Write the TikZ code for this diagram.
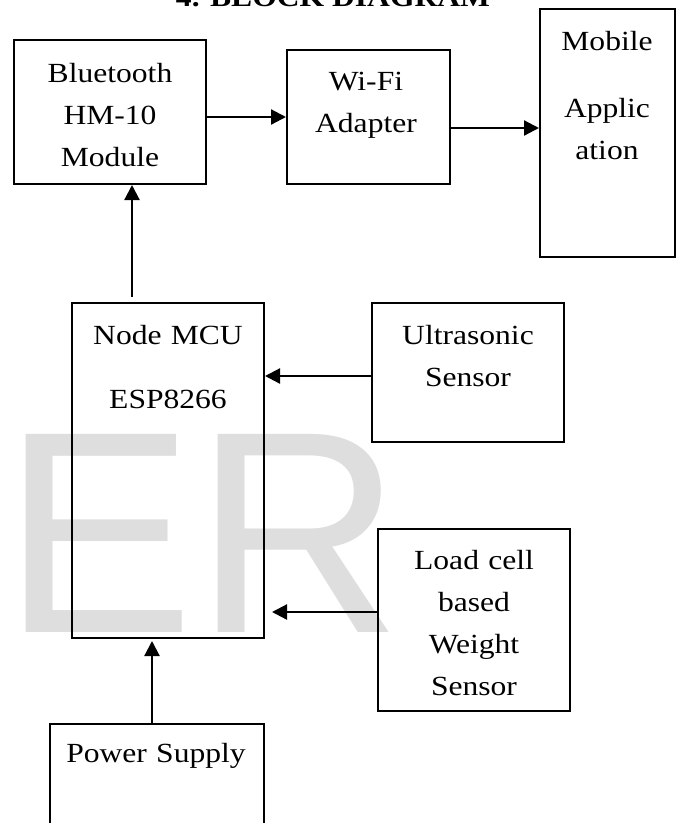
\documentclass[tikz,border=0pt]{standalone}
\usepackage{fontspec}
\setmainfont{Liberation Serif}[FakeStretch=1.14]
\newfontfamily\wmfont{Liberation Sans}
\usetikzlibrary{arrows.meta}

\definecolor{WmGray}{HTML}{DEDEDE}

\begin{document}
\begin{tikzpicture}[x=1pt,y=1pt,
		block/.style={draw, line width=2pt, inner sep=0pt},
		txt/.style={anchor=base, inner sep=0pt, text width=200pt, align=center, font=\fontsize{27.7}{42}\selectfont},
		arr/.style={line width=2.2pt, -{Triangle[length=15pt,width=15pt]}}]
	\useasboundingbox (0,0) rectangle (676,-823);
	\clip (0,0) rectangle (676,-823);
	% watermark
	\node[anchor=base west, inner sep=0pt, text=WmGray, font=\wmfont\fontsize{288}{288}\selectfont] (wm) at (2,-632) {ER};
	% title
	\node[anchor=base, inner sep=0pt, font=\fontsize{27.7}{42}\selectfont\bfseries] (title) at (333,-6) {4. BLOCK DIAGRAM};
	% blocks
	\node[block, minimum width=192pt, minimum height=144pt] (bt) at (110,-112) {};
	\node[block, minimum width=163pt, minimum height=134pt] (wifi) at (368.5,-117) {};
	\node[block, minimum width=135pt, minimum height=248pt] (mobile) at (607.5,-133) {};
	\node[block, minimum width=192pt, minimum height=335pt] (mcu) at (168,-470.5) {};
	\node[block, minimum width=192pt, minimum height=139pt] (ultra) at (468,-372.5) {};
	\node[block, minimum width=192pt, minimum height=182pt] (load) at (474,-620) {};
	\node[block, minimum width=214pt, minimum height=140pt] (power) at (157,-794) {};
	% texts
	\node[txt] (btText) at (110,-82) {Bluetooth\\HM-10\\Module};
	\node[txt] (wifiText) at (366,-90) {Wi-Fi\\Adapter};
	\node[txt] (mobileText) at (607,-50) {Mobile\\[25pt]Applic\\ation};
	\node[txt] (mcuText) at (168,-344) {Node MCU\\[22pt]ESP8266};
	\node[txt] (ultraText) at (468,-344) {Ultrasonic\\Sensor};
	\node[txt] (loadText) at (474,-569) {Load cell\\based\\Weight\\Sensor};
	\node[txt] (powerText) at (156,-762) {Power Supply};
	% connector ends
	\coordinate (mcuOut) at ([xshift=-36pt,yshift=5pt]mcu.north);
	\coordinate (wifiOut) at ([yshift=-11pt]wifi.east);
	\coordinate (ultraOut) at ([yshift=-3.5pt]ultra.west);
	\coordinate (loadOut) at ([yshift=8pt]load.west);
	\coordinate (mcuIn) at ([xshift=7pt]mcu.east);
	\coordinate (powerOut) at ([xshift=-5pt]power.north);
	% connectors
	\draw[arr] (mcuOut) -- (mcuOut |- bt.south);
	\draw[arr] (bt.east |- wifi.west) -- (wifi.west);
	\draw[arr] (wifiOut) -- (mobile.west |- wifiOut);
	\draw[arr] (ultraOut) -- (mcu.east |- ultraOut);
	\draw[arr] (loadOut) -- (mcuIn |- loadOut);
	\draw[arr, shorten >=2pt] (powerOut) -- (powerOut |- mcu.south);
\end{tikzpicture}
\end{document}
